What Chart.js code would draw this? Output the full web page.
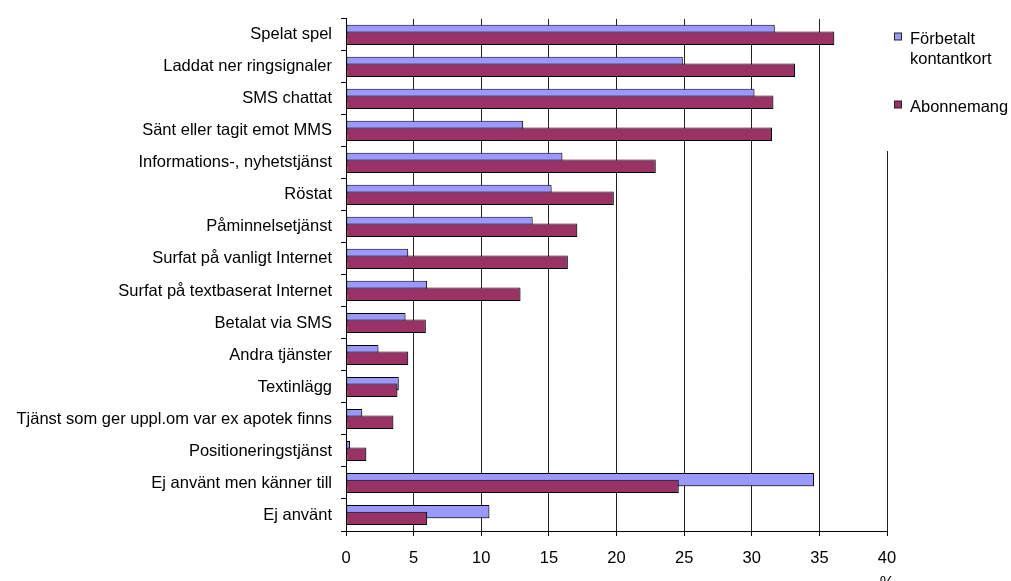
<!DOCTYPE html>
<html><head><meta charset="utf-8">
<script src="https://cdn.jsdelivr.net/npm/chart.js@4"></script>
<style>html,body{margin:0;padding:0;background:#fff;overflow:hidden}</style>
</head><body>
<canvas id="c" width="1011" height="581"></canvas>
<script>
const categories = ['Spelat spel','Laddat ner ringsignaler','SMS chattat','Sänt eller tagit emot MMS','Informations-, nyhetstjänst','Röstat','Påminnelsetjänst','Surfat på vanligt Internet','Surfat på textbaserat Internet','Betalat via SMS','Andra tjänster','Textinlägg','Tjänst som ger uppl.om var ex apotek finns','Positioneringstjänst','Ej använt men känner till','Ej använt'];
const seriesNames = ['Förbetalt kontantkort','Abonnemang'];
const prepaid = [31.7,24.9,30.2,13.1,16.0,15.2,13.8,4.6,6.0,4.4,2.4,3.9,1.2,0.3,34.6,10.6];
const subscription = [36.1,33.2,31.6,31.5,22.9,19.8,17.1,16.4,12.9,5.9,4.6,3.8,3.5,1.5,24.6,6.0];
const xMin = 0, xMax = 40, xStep = 5;
const unitLabel = '%';

const FONT = "'Liberation Sans', Arial, sans-serif";
const FS = 16.5;
Chart.defaults.font.family = FONT;
Chart.defaults.font.size = FS;
Chart.defaults.color = '#000';

const drawOrderPlugin = {
  id: 'drawOrder',
  beforeDatasetsDraw(chart) {
    const ctx = chart.ctx, a = chart.chartArea;
    ctx.save();
    ctx.beginPath();
    ctx.rect(a.left, a.top, a.right - a.left + 4, a.bottom - a.top);
    ctx.clip();
    ctx.shadowColor = 'rgba(0,0,0,0.28)';
    ctx.shadowOffsetX = 2;
    ctx.shadowOffsetY = 2;
    ctx.shadowBlur = 0;
    for (let i = 0; i < chart.data.datasets.length; i++) {
      const m = chart.getDatasetMeta(i);
      if (!m.hidden) m.controller.draw();
    }
    ctx.restore();
    return false;
  }
};

function wrapText(ctx, text, maxW) {
  const words = text.split(' ');
  const lines = [];
  let cur = '';
  words.forEach(w => {
    const t = cur ? cur + ' ' + w : w;
    if (cur && ctx.measureText(t).width > maxW) { lines.push(cur); cur = w; }
    else cur = t;
  });
  if (cur) lines.push(cur);
  return lines;
}

const sideLegendPlugin = {
  id: 'sideLegend',
  afterDraw(chart) {
    const ctx = chart.ctx, a = chart.chartArea;
    ctx.save();
    ctx.fillStyle = '#fff';
    ctx.fillRect(a.right - 1, 0, chart.width - a.right + 1, 151);
    ctx.font = FS + 'px ' + FONT;
    ctx.textBaseline = 'alphabetic';
    ctx.textAlign = 'left';
    const boxX = a.right + 7.5, textX = a.right + 23;
    let y = 43.5;
    chart.data.datasets.forEach(ds => {
      const lines = wrapText(ctx, ds.label, 100);
      ctx.fillStyle = ds.backgroundColor;
      ctx.fillRect(boxX, y - 10.5, 7, 7);
      ctx.strokeStyle = '#222';
      ctx.lineWidth = 1;
      ctx.strokeRect(boxX, y - 10.5, 7, 7);
      ctx.fillStyle = '#000';
      lines.forEach((ln, k) => ctx.fillText(ln, textX, y + k * 20));
      y += (lines.length - 1) * 20 + 48;
    });
    ctx.restore();
  }
};

new Chart(document.getElementById('c'), {
  type: 'bar',
  data: {
    labels: categories,
    datasets: [
      { label: seriesNames[0], data: prepaid, backgroundColor: '#9999FF', borderColor: '#000', borderWidth: 1, borderSkipped: false },
      { label: seriesNames[1], data: subscription, backgroundColor: '#993366', borderColor: '#000', borderWidth: 1, borderSkipped: false }
    ]
  },
  options: {
    indexAxis: 'y',
    responsive: false,
    animation: false,
    devicePixelRatio: 1,
    categoryPercentage: 0.42,
    barPercentage: 2.0,
    layout: { padding: { top: 15, right: 124, left: 0, bottom: 0 } },
    plugins: { legend: { display: false }, tooltip: { enabled: false } },
    scales: {
      x: {
        min: xMin, max: xMax,
        ticks: {
          stepSize: xStep, padding: 10,
          font: { lineHeight: 1.5 },
          callback: v => v === xMax ? [String(v), unitLabel] : String(v)
        },
        grid: { color: '#222', lineWidth: 1, tickLength: 5, tickColor: '#000' },
        border: { color: '#000', width: 1 },
        afterFit: s => { s.height = 50; }
      },
      y: {
        ticks: { padding: 9 },
        grid: { drawOnChartArea: false, offset: true, tickLength: 5, tickColor: '#000' },
        border: { color: '#000', width: 1 },
        afterFit: s => { s.width = 346; }
      }
    }
  },
  plugins: [drawOrderPlugin, sideLegendPlugin]
});
</script>
</body></html>
